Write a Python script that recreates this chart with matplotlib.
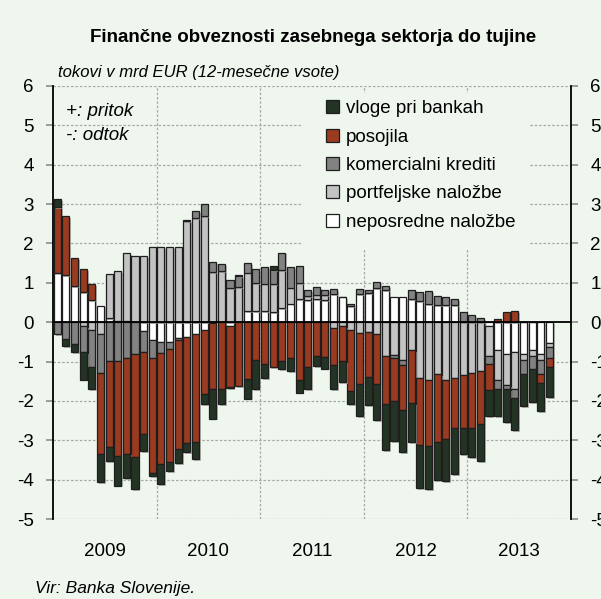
"""
Finančne obveznosti zasebnega sektorja do tujine - stacked monthly bars.
"""
import numpy as np
import matplotlib.pyplot as plt
import matplotlib.patheffects as pe
from matplotlib.patches import Rectangle

plt.rcParams['font.family'] = ['Liberation Sans', 'DejaVu Sans']
plt.rcParams['axes.unicode_minus'] = False

# monthly 12-month sums, Jan 2009 - Oct 2013 (mrd EUR)
years = ['2009', '2010', '2011', '2012', '2013']

neposredne = [1.26, 1.19, 0.91, 0.77, 0.56, 0.42, 0.10, 0.03, 0.02, 0.00,
              -0.23, -0.46, -0.50, -0.50, -0.40, -0.37, -0.30, -0.19, -0.03, 0.00,
              -0.10, 0.00, 0.28, 0.28, 0.28, 0.25, 0.36, 0.47, 0.58, 0.57,
              0.59, 0.57, 0.71, 0.63, 0.40, 0.71, 0.74, 0.86, 0.81, 0.64,
              0.64, 0.59, 0.54, 0.46, 0.43, 0.43, 0.43, 0.00, 0.00, 0.00,
              -0.10, -0.70, -0.81, -0.77, -0.80, -0.71, -0.81, -0.54]
portfeljske = [0.00, 0.00, 0.00, -0.10, -0.19, -0.31, 1.13, 1.26, 1.73, 1.69,
               1.67, 1.91, 1.90, 1.90, 1.92, 2.56, 2.64, 2.69, 1.27, 1.30,
               0.86, 0.89, 0.98, 0.71, 0.70, 0.71, 0.97, 0.41, 0.41, 0.10,
               0.11, 0.11, -0.14, -0.09, -0.19, -0.27, -0.26, -0.31, -0.86, -0.84,
               -0.95, -0.71, -1.43, -1.46, -1.31, -1.46, -1.41, -1.35, -1.29, -1.24,
               -0.75, -0.77, -0.79, -0.93, -0.17, -0.15, -0.16, -0.10]
komercialni = [-0.31, -0.42, -0.56, -0.67, -0.96, -0.97, -0.98, -0.98, -0.92, -0.81,
               -0.53, -0.46, -0.28, -0.17, -0.05, 0.04, 0.18, 0.31, 0.26, 0.17,
               0.22, 0.28, 0.25, 0.36, 0.41, 0.37, 0.44, 0.52, 0.43, 0.15,
               0.20, 0.15, 0.14, 0.00, 0.05, 0.13, 0.07, 0.15, 0.10, -0.08,
               -0.14, 0.24, 0.23, 0.33, 0.23, 0.21, 0.16, 0.27, 0.17, 0.10,
               -0.21, -0.22, -0.11, -0.22, -0.34, -0.32, -0.34, -0.26]
posojila = [1.67, 1.50, 0.72, 0.58, 0.41, -2.08, -2.19, -2.43, -2.42, -2.61,
            -2.08, -2.90, -2.83, -2.87, -2.76, -2.71, -2.74, -1.63, -1.67, -1.70,
            -1.54, -1.63, -1.45, -0.97, -1.07, -1.15, -0.99, -0.92, -1.48, -1.14,
            -0.86, -0.88, -0.94, -0.89, -1.56, -1.31, -1.14, -1.25, -1.22, -1.08,
            -1.13, -1.34, -1.68, -1.68, -1.73, -1.51, -1.27, -1.34, -1.39, -1.34,
            -0.67, 0.08, 0.25, 0.29, 0.00, 0.00, -0.23, -0.24]
vloge = [0.19, -0.18, -0.19, -0.69, -0.55, -0.70, -0.36, -0.74, -0.63, -0.83,
         -0.43, -0.10, -0.50, -0.24, -0.37, -0.23, -0.43, -0.27, -0.75, -0.39,
         -0.03, 0.03, -0.49, -0.74, -0.35, 0.09, -0.20, -0.33, -0.31, -0.55,
         -0.25, -0.30, -0.62, -0.54, -0.33, -0.80, -0.70, -0.92, -1.17, -1.02,
         -1.08, -0.99, -1.10, -1.10, -0.98, -1.07, -1.18, -0.67, -0.74, -0.94,
         -0.65, -0.70, -0.82, -0.83, -0.83, -0.86, -0.71, -0.77]

series = [
    (neposredne, 'neposredne naložbe', '#ffffff'),
    (portfeljske, 'portfeljske naložbe', '#c3c3c3'),
    (komercialni, 'komercialni krediti', '#828282'),
    (posojila, 'posojila', '#9a3a20'),
    (vloge, 'vloge pri bankah', '#243424'),
]

BG = '#eef6ee'
W, H = 601, 599
fig = plt.figure(figsize=(W / 100, H / 100), dpi=100, facecolor=BG)
# axes box in pixels: x 53..571, y 86..519
ax = fig.add_axes([53 / W, 1 - 519 / H, 518 / W, 433 / H])
ax.set_facecolor(BG)

n = len(neposredne)
x = np.arange(n)
pos_base = np.zeros(n)
neg_base = np.zeros(n)
shadow = [pe.SimplePatchShadow(offset=(1.3, -1.3), shadow_rgbFace='#9a9a9a', alpha=0.7), pe.Normal()]
handles = []
for vals, label, color in series:
    v = np.array(vals)
    bottom = np.where(v >= 0, pos_base, neg_base)
    bars = ax.bar(x, v, 0.82, bottom=bottom, color=color, edgecolor='#1e1e1e',
                  linewidth=0.9, zorder=3, label=label)
    for b in bars:
        b.set_path_effects(shadow)
    handles.append(bars)
    pos_base += np.clip(v, 0, None)
    neg_base += np.clip(v, None, 0)

ax.set_xlim(-0.5, 59.5)
ax.set_ylim(-5, 6)
ax.set_yticks(range(-5, 7))
ax.set_xticks([5.5, 17.5, 29.5, 41.5, 53.5])
ax.set_xticklabels(years)

# grid
for yv in range(-5, 7):
    if yv != 0:
        ax.axhline(yv, color='#a8a8a8', lw=0.9, ls=(0, (2, 1.5)), zorder=0.5)
for xv in [11.5, 23.5, 35.5, 47.5]:
    ax.axvline(xv, color='#a8a8a8', lw=0.9, ls=(0, (2, 1.5)), zorder=0.5)
ax.axhline(0, color='black', lw=1.3, zorder=4)

for s in ['top', 'bottom']:
    ax.spines[s].set_visible(False)
for s in ['left', 'right']:
    ax.spines[s].set_color('black')
    ax.spines[s].set_linewidth(1.3)

ax.tick_params(axis='y', which='major', left=True, right=True, labelleft=True, labelright=True,
               length=5, width=1.2, color='#8c8c8c', labelsize=13.5, pad=9)
ax.tick_params(axis='x', which='both', length=0, labelsize=13.5, pad=17)

# background patch behind legend hides grid
ax.add_patch(Rectangle((303 / W, 1 - 250 / H), 227 / W, 157 / H, transform=fig.transFigure,
                       facecolor=BG, edgecolor='none', zorder=1))
leg = ax.legend(handles[::-1], [s[1] for s in series][::-1], loc='upper left',
                bbox_to_anchor=(313 / W, 1 - 87 / H), bbox_transform=fig.transFigure,
                frameon=False, fontsize=13.5, handlelength=0.7, handleheight=0.7,
                handletextpad=0.35, labelspacing=0.6, borderpad=0.2)
for h in leg.legend_handles:
    h.set_edgecolor('#1e1e1e')
    h.set_path_effects([])

ax.text(66 / W, 1 - 112 / H, '+: pritok', transform=fig.transFigure, fontsize=13.5,
        style='italic', va='center', ha='left')
ax.text(66 / W, 1 - 135 / H, '-: odtok', transform=fig.transFigure, fontsize=13.5,
        style='italic', va='center', ha='left')

fig.text(313 / W, 1 - 38 / H, 'Finančne obveznosti zasebnega sektorja do tujine',
         fontsize=13.5, fontweight='bold', ha='center', va='center')
fig.text(58 / W, 1 - 73 / H, 'tokovi v mrd EUR (12-mesečne vsote)', fontsize=12,
         style='italic', ha='left', va='center')
fig.text(35 / W, 1 - 589 / H, 'Vir: Banka Slovenije.', fontsize=12.5,
         style='italic', ha='left', va='center')

fig.savefig('out.png', dpi=100, facecolor=BG)
